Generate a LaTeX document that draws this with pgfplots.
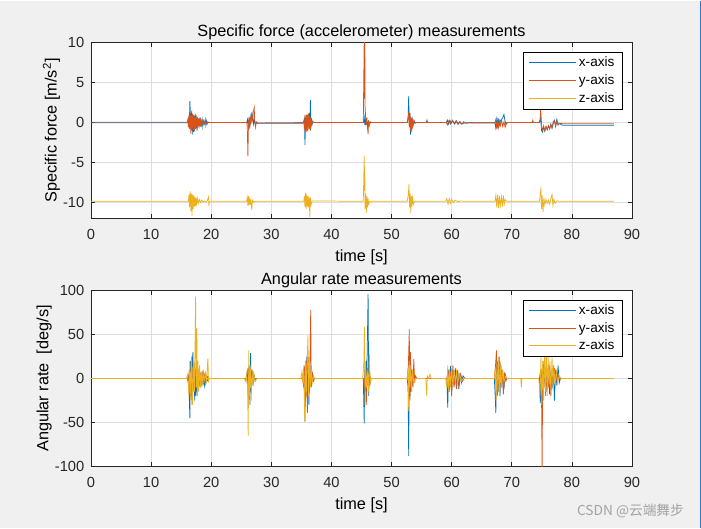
\documentclass[border=0pt]{standalone}
\usepackage{pgfplots}
\pgfplotsset{compat=1.18}
\usepackage{fontspec}
\setmainfont{Liberation Sans}
\newfontfamily\cjk{Noto Sans CJK SC}
\definecolor{mblue}{rgb}{0,0.447,0.741}
\definecolor{morange}{rgb}{0.85,0.325,0.098}
\definecolor{myellow}{rgb}{0.929,0.694,0.125}
\definecolor{figbg}{HTML}{F0F0F0}
\definecolor{axcol}{HTML}{262626}
\definecolor{gridcol}{HTML}{DEDEDE}
\pgfplotsset{
  mstyle/.style={
    scale only axis, width=405.75pt, height=132pt,
    anchor=north west,
    xmin=0, xmax=90, xtick={0,10,...,90},
    axis background/.style={fill=white},
    axis line style={draw=axcol, line width=0.5pt},
    tick style={draw=axcol, line width=0.5pt},
    tick align=inside, major tick length=3.3pt,
    grid=major, major grid style={draw=gridcol, line width=0.5pt},
    /pgf/number format/assume math mode=true,
    ticklabel style={font=\fontsize{11}{13}\selectfont, text=axcol},
    xticklabel style={yshift=-4.5pt},
    yticklabel style={xshift=-1.5pt},
    label style={font=\fontsize{12.2}{14}\selectfont, text=black},
    xlabel style={yshift=-1pt},
    ylabel style={yshift=-4.5pt},
    title style={font=\fontsize{12.2}{14}\selectfont, text=black, yshift=-7.5pt},
    xlabel={time [s]},
    legend cell align=left,
    legend image code/.code={\draw[#1, line width=0.8pt] (0pt,0pt) -- (35pt,0pt);},
    legend style={draw=black, line width=0.5pt, fill=white, font=\fontsize{10.2}{11}\selectfont,
      anchor=north east, inner xsep=4pt, inner ysep=1.5pt, row sep=0.4pt},
    every axis plot/.append style={line width=0.55pt},
  }
}
\begin{document}
\begin{tikzpicture}
\fill[figbg] (0,0) rectangle (525.75pt,-395.25pt);
\draw[color={rgb,255:red,45;green,120;blue,200}, line width=0.8pt] (525.3pt,0) -- (525.3pt,-395.25pt);

\begin{axis}[mstyle, at={(68.25pt,-31.5pt)},
  ymin=-12, ymax=10, ytick={-10,-5,0,5,10},
  title={Specific force (accelerometer) measurements},
  ylabel={Specific force [m/s\textsuperscript{2}]},
  legend style={at={(0.983,0.946)}}]
\addplot[mblue] coordinates {
(0,-0.03) (16,-0.03) (16.2,0.5) (16.35,-0.6) (16.45,2.7) (16.55,0.8) (16.65,-0.9) (16.75,1.5) (16.85,-1.5) (16.95,1.0) (17.05,-1.2) (17.15,0.9) (17.25,-0.8) (17.35,1.1) (17.45,-0.7) (17.55,0.6) (17.65,-1.0) (17.75,0.7) (17.85,-0.5) (17.95,0.5) (18.1,-0.4) (18.25,0.4) (18.4,-0.3) (18.5,0.3) (18.6,-0.5) (18.7,0.2) (18.85,-0.2) (19.0,0.4) (19.1,-0.3) (19.2,0.2) (19.3,-0.2) (19.45,0.1) (19.6,0)
(25.9,0) (26.05,0.4) (26.15,-0.6) (26.3,0.5) (26.45,-0.3) (26.6,0.8) (26.75,0.2) (26.9,1.0) (27.05,-0.2) (27.2,0.4) (27.35,-0.3) (27.5,-0.1) (35.3,-0.1)
(35.5,0.5) (35.6,-2.8) (35.7,0.6) (35.8,-0.8) (35.9,1.0) (36.0,-1.0) (36.1,0.8) (36.2,-0.6) (36.3,1.2) (36.4,-0.5) (36.5,2.8) (36.6,-0.4) (36.7,0.5) (36.8,-0.2) (36.9,0.1) (37.1,0)
(45.3,0) (45.45,0.7) (45.55,-0.3) (45.65,0.4) (45.75,-0.2) (45.85,0.3) (46.0,-0.4) (46.15,0.2) (46.3,0)
(52.6,0) (52.75,0.6) (52.85,3.3) (52.95,-0.4) (53.05,1.2) (53.15,-1.5) (53.25,0.6) (53.35,-0.8) (53.45,0.4) (53.6,-0.3) (53.75,0.2) (53.9,-0.1) (54.1,0)
(55.8,0) (55.9,0.3) (56.0,0)
(59.1,0) (59.3,0.3) (59.5,-0.2) (59.7,0.3) (59.9,-0.1) (60.2,0.2) (60.5,-0.2) (60.8,0.2) (61.1,-0.2) (61.4,0.1) (61.7,-0.2) (62.0,0.1) (62.4,-0.1) (62.8,-0.05)
(67.2,-0.05) (67.35,-0.7) (67.5,0.4) (67.65,-0.5) (67.8,0.3) (67.95,-0.3) (68.1,0.2) (68.3,0.4) (68.5,0.6) (68.7,1.0) (68.85,0.3) (69.0,-0.2) (69.2,0)
(74.6,0) (74.8,0.5) (74.95,-1.0) (75.1,-1.2) (75.3,-0.6) (75.5,-1.1) (75.7,-0.5) (75.9,-0.9) (76.1,-0.4) (76.3,-0.8) (76.5,-0.2) (76.7,-0.7) (76.9,0.1) (77.1,0.3) (77.3,-0.5) (77.5,0.4) (77.7,-0.3) (77.9,-0.1) (78.3,-0.3) (78.6,-0.35) (87,-0.35)
};
\addlegendentry{x-axis}
\addplot[morange] coordinates {
(0,0.05) (16,0.05) (16.1,0.3) (16.2,-0.6) (16.3,1.0) (16.4,-0.8) (16.5,1.2) (16.6,-1.4) (16.7,0.9) (16.8,-1.0) (16.9,1.1) (17.0,-0.9) (17.1,0.8) (17.2,-1.1) (17.3,0.7) (17.4,-0.8) (17.5,0.9) (17.6,-0.6) (17.7,0.6) (17.8,-0.7) (17.9,0.5) (18.0,-0.4) (18.1,0.6) (18.2,-0.5) (18.3,0.3) (18.45,-0.3) (18.6,0.3) (18.8,-0.2) (19.0,0.2) (19.2,-0.1) (19.5,0)
(25.9,0) (26.0,-0.5) (26.1,-4.2) (26.2,-0.3) (26.3,0.6) (26.4,-0.8) (26.5,0.7) (26.6,-0.2) (26.7,1.0) (26.85,0.3) (27.0,1.3) (27.15,1.9) (27.25,0.2) (27.35,-0.6) (27.5,0.1) (27.7,-0.05)
(35.4,0) (35.5,-0.9) (35.6,1.0) (35.7,-1.1) (35.8,0.9) (35.9,-1.2) (36.0,1.0) (36.1,-0.9) (36.2,1.1) (36.3,-0.8) (36.4,0.8) (36.5,-1.0) (36.6,0.6) (36.7,-0.3) (36.8,0.2) (37,0)
(45.3,0) (45.45,10.5) (45.5,3) (45.55,10.5) (45.6,2) (45.7,0.5) (45.8,-0.3) (45.9,0.6) (46.0,-0.7) (46.1,-1.4) (46.2,0.3) (46.3,-0.4) (46.5,0.1) (46.7,0)
(52.6,0) (52.75,0.5) (52.85,1.3) (52.95,-0.6) (53.05,1.0) (53.15,-1.0) (53.25,0.7) (53.35,-1.2) (53.45,0.5) (53.55,-0.4) (53.7,0.3) (53.9,0)
(59.1,0) (59.3,-0.3) (59.5,0.2) (59.8,-0.2) (60.1,0.3) (60.4,-0.1) (60.7,0.2) (61.0,-0.2) (61.3,0.1) (61.6,-0.2) (62.0,-0.1) (62.5,0)
(67.2,0) (67.35,0.4) (67.5,-0.8) (67.65,0.3) (67.8,-0.6) (67.95,0.2) (68.1,-0.4) (68.3,0.3) (68.5,-0.5) (68.7,0.1) (68.9,-0.6) (69.1,-0.2) (69.3,0)
(73.4,0) (73.5,0.3) (73.6,0)
(74.5,0) (74.7,0.3) (74.8,1.7) (74.9,0.5) (75.0,-0.6) (75.15,-0.9) (75.3,-0.4) (75.5,-1.0) (75.7,-0.5) (75.9,-0.9) (76.1,-0.4) (76.3,-0.8) (76.5,-0.3) (76.7,-0.7) (76.9,-0.2) (77.1,0.2) (77.3,-0.4) (77.5,0.1) (77.7,-0.3) (78.0,-0.1) (78.5,-0.15) (87,-0.15)
};
\addlegendentry{y-axis}
\addplot[myellow] coordinates {
(0,-9.85) (16.2,-9.85) (16.3,-9.0) (16.4,-10.6) (16.5,-8.6) (16.6,-11.0) (16.7,-8.9) (16.8,-11.7) (16.9,-9.0) (17.0,-10.8) (17.1,-9.1) (17.2,-10.5) (17.3,-9.3) (17.4,-10.4) (17.5,-9.4) (17.6,-10.2) (17.7,-9.5) (17.85,-10.1) (18.0,-9.6) (18.2,-10.0) (18.4,-9.7) (18.6,-9.95) (18.8,-9.8) (19.0,-9.9) (19.3,-9.85) (19.55,-9.3) (19.6,-10.4) (19.7,-9.85)
(25.9,-9.85) (26.0,-9.4) (26.1,-10.4) (26.2,-9.2) (26.3,-10.3) (26.4,-9.6) (26.5,-10.1) (26.6,-9.7) (26.75,-10.9) (26.85,-9.7) (27.0,-9.95) (27.2,-9.85)
(35.4,-9.85) (35.5,-9.2) (35.6,-10.6) (35.7,-8.8) (35.8,-10.8) (35.9,-9.0) (36.0,-10.5) (36.1,-9.2) (36.2,-10.6) (36.3,-9.3) (36.4,-11.8) (36.5,-9.4) (36.6,-10.3) (36.8,-9.8)
(45.3,-9.85) (45.45,-4.2) (45.5,-8.5) (45.55,-5.5) (45.6,-10.8) (45.7,-8.9) (45.8,-11.3) (45.9,-9.2) (46.0,-10.6) (46.1,-9.5) (46.2,-10.2) (46.4,-9.85)
(52.6,-9.85) (52.8,-9.0) (52.9,-7.7) (53.0,-10.6) (53.1,-8.9) (53.2,-11.3) (53.3,-9.2) (53.4,-10.5) (53.5,-9.4) (53.65,-10.2) (53.8,-9.85)
(59.0,-9.85) (59.2,-9.5) (59.4,-10.2) (59.6,-9.5) (59.8,-10.1) (60.0,-9.6) (60.3,-10.0) (60.6,-9.7) (61.0,-9.9) (61.5,-9.8) (62,-9.85)
(67.2,-9.85) (67.35,-9.1) (67.5,-10.6) (67.65,-9.0) (67.8,-10.7) (67.95,-9.2) (68.1,-10.4) (68.3,-9.3) (68.45,-10.5) (68.6,-9.1) (68.75,-10.2) (68.9,-9.6) (69.1,-9.85)
(74.6,-9.85) (74.75,-8.9) (74.85,-8.1) (74.95,-10.8) (75.05,-9.1) (75.2,-11.2) (75.35,-9.4) (75.5,-10.3) (75.7,-9.6) (75.9,-10.1) (76.1,-9.7) (76.3,-10.2) (76.5,-9.5) (76.7,-9.0) (76.85,-10.4) (77.0,-9.6) (77.2,-10.1) (77.5,-9.8) (78,-9.85) (87,-9.85)
};
\addlegendentry{z-axis}
\end{axis}

\begin{axis}[mstyle, at={(68.25pt,-217.5pt)},
  ymin=-100, ymax=100, ytick={-100,-50,0,50,100},
  title={Angular rate measurements},
  ylabel={Angular rate\ \ [deg/s]},
  legend style={at={(0.983,0.949)}}]
\addplot[mblue] coordinates {
(0,0) (16,0) (16.2,3) (16.3,-10) (16.45,-45) (16.55,20) (16.65,-20) (16.75,25) (16.85,-15) (16.95,30) (17.05,-10) (17.15,15) (17.25,-25) (17.35,10) (17.45,-20) (17.55,20) (17.65,-15) (17.75,10) (17.85,-12) (18.0,8) (18.15,-10) (18.3,5) (18.5,-5) (18.7,6) (18.9,-8) (19.1,5) (19.3,-3) (19.6,0)
(25.8,0) (26.0,8) (26.15,-20) (26.3,15) (26.45,-30) (26.55,29) (26.65,-15) (26.8,10) (26.95,-8) (27.1,5) (27.3,-3) (27.5,0)
(35.1,0) (35.3,5) (35.5,-15) (35.6,-49) (35.7,20) (35.8,-10) (35.9,25) (36.0,-20) (36.1,15) (36.25,-30) (36.4,20) (36.55,-10) (36.7,8) (36.9,-3) (37.1,0)
(45.3,0) (45.45,-51) (45.55,10) (45.65,-15) (45.75,20) (45.85,-10) (45.95,30) (46.1,96) (46.2,-20) (46.3,10) (46.45,-5) (46.6,0)
(52.6,0) (52.75,-10) (52.85,-88) (52.95,15) (53.05,-20) (53.15,22) (53.25,-15) (53.35,10) (53.5,-8) (53.7,5) (53.9,0)
(59.2,0) (59.35,-33) (59.5,10) (59.65,-10) (59.8,14) (60.0,-15) (60.2,10) (60.4,-8) (60.6,12) (60.8,-10) (61.0,8) (61.2,-12) (61.4,6) (61.6,-5) (61.9,3) (62.2,0)
(67.1,0) (67.25,-20) (67.35,-39) (67.45,10) (67.6,20) (67.75,-15) (67.9,25) (68.05,-20) (68.2,15) (68.35,-10) (68.5,8) (68.7,-12) (68.9,5) (69.1,0)
(74.6,0) (74.75,-28) (74.9,10) (75.05,-15) (75.2,20) (75.35,-10) (75.5,15) (75.65,-20) (75.8,10) (75.95,-5) (76.1,12) (76.3,-18) (76.5,8) (76.7,-12) (76.9,15) (77.1,-25) (77.3,10) (77.5,-8) (77.7,15) (77.9,-5) (78.1,0) (87,0)
};
\addlegendentry{x-axis}
\addplot[morange] coordinates {
(0,0) (16,0) (16.2,-5) (16.35,10) (16.5,-20) (16.65,15) (16.8,-30) (16.95,12) (17.1,-15) (17.25,18) (17.4,-10) (17.55,12) (17.7,-18) (17.85,10) (18.0,-8) (18.15,6) (18.3,-10) (18.5,8) (18.7,-5) (18.9,4) (19.1,-6) (19.3,3) (19.5,0)
(25.9,0) (26.05,-8) (26.2,12) (26.35,-15) (26.5,8) (26.65,-5) (26.8,6) (27.0,-3) (27.2,0)
(35.2,0) (35.4,-10) (35.55,15) (35.7,-25) (35.85,20) (36.0,-39) (36.15,25) (36.3,-15) (36.45,30) (36.55,78) (36.65,-10) (36.8,8) (37.0,-3) (37.2,0)
(45.3,0) (45.5,-10) (45.65,15) (45.8,-30) (45.95,12) (46.1,-8) (46.3,5) (46.5,0)
(52.6,0) (52.8,15) (52.95,56) (53.05,-25) (53.15,30) (53.25,-15) (53.4,10) (53.55,-10) (53.7,22) (53.85,-5) (54.0,3) (54.2,0)
(59.2,0) (59.4,10) (59.6,-15) (59.8,8) (60.0,-20) (60.2,15) (60.4,-10) (60.6,5) (60.8,-12) (61.0,10) (61.2,-8) (61.5,5) (61.8,-3) (62.1,0)
(67.1,0) (67.3,15) (67.45,32) (67.6,-20) (67.75,15) (67.9,-15) (68.05,20) (68.2,-10) (68.4,10) (68.6,-18) (68.8,5) (69.0,-3) (69.2,0)
(74.6,0) (74.8,10) (74.95,-20) (75.05,-105) (75.15,15) (75.3,-10) (75.5,12) (75.7,-15) (75.9,8) (76.1,-10) (76.3,15) (76.5,-20) (76.7,10) (76.9,-8) (77.1,12) (77.3,-5) (77.6,5) (77.9,0) (87,0)
};
\addlegendentry{y-axis}
\addplot[myellow] coordinates {
(0,0) (15.9,0) (16.1,5) (16.3,-20) (16.45,20) (16.6,-25) (16.75,25) (16.9,-30) (17.05,20) (17.2,-15) (17.3,30) (17.4,93) (17.5,-10) (17.6,57) (17.7,-20) (17.8,20) (17.9,-15) (18.05,15) (18.2,-10) (18.35,8) (18.5,-8) (18.65,10) (18.8,-5) (19.0,6) (19.2,-4) (19.45,23) (19.55,-3) (19.7,0)
(25.5,0) (25.7,-3) (25.9,5) (26.05,-10) (26.15,-65) (26.25,32) (26.35,-20) (26.5,15) (26.65,-25) (26.8,10) (26.95,-8) (27.1,5) (27.3,-3) (27.6,0)
(34.9,0) (35.1,8) (35.25,-5) (35.4,15) (35.55,-49) (35.7,20) (35.85,-15) (36.0,30) (36.1,49) (36.2,-20) (36.35,25) (36.5,-10) (36.65,10) (36.8,-5) (37.0,3) (37.2,0)
(45.2,0) (45.4,20) (45.5,59) (45.6,-30) (45.7,15) (45.85,-10) (46.0,8) (46.15,-15) (46.3,29) (46.45,-5) (46.6,0)
(52.6,0) (52.75,10) (52.85,-37) (52.95,20) (53.05,-10) (53.2,15) (53.35,-15) (53.5,10) (53.7,-5) (53.9,0)
(55.7,0) (55.85,-20) (55.95,3) (56.2,0) (56.4,5) (56.6,0)
(59.0,0) (59.2,-10) (59.35,15) (59.5,-15) (59.65,10) (59.8,-10) (60.0,12) (60.2,-8) (60.4,10) (60.6,-6) (60.8,8) (61.0,-5) (61.3,5) (61.6,-3) (62.0,0)
(67.1,0) (67.25,10) (67.4,-25) (67.55,20) (67.7,-15) (67.85,25) (68.0,-20) (68.15,15) (68.3,-10) (68.5,10) (68.7,-5) (68.9,3) (69.2,0)
(71.5,0) (71.6,-10) (71.7,0)
(74.5,0) (74.7,-20) (74.85,25) (75.0,-30) (75.15,20) (75.3,-25) (75.45,30) (75.6,-15) (75.75,35) (75.9,-20) (76.05,25) (76.2,-10) (76.35,20) (76.5,-15) (76.7,25) (76.85,-10) (77.0,15) (77.2,-8) (77.4,10) (77.6,-5) (77.9,3) (78.2,0) (87,0)
};
\addlegendentry{z-axis}
\end{axis}

\node[anchor=east, text=black!36, font=\cjk\fontsize{10.3}{12}\selectfont] at (516.5pt,-382.5pt) {CSDN @云端舞步};
\end{tikzpicture}
\end{document}
